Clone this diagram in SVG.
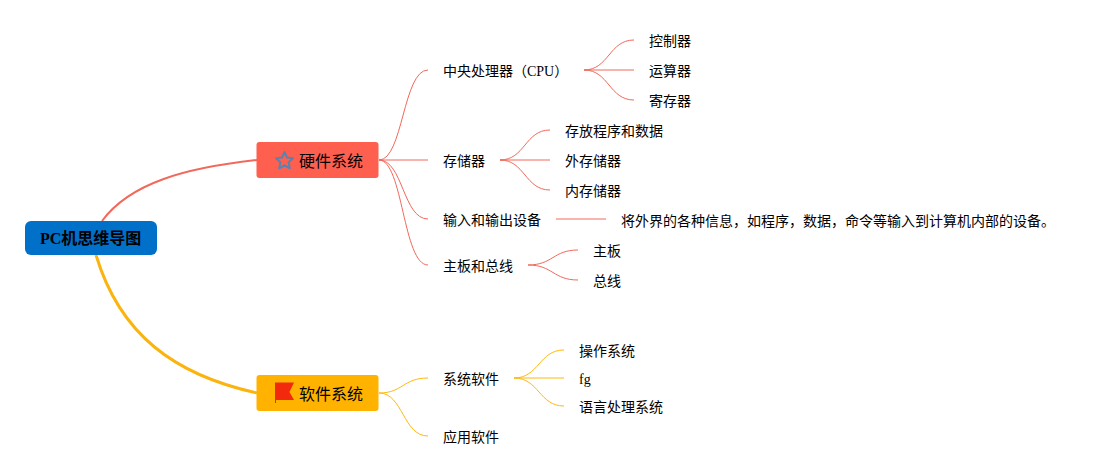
<svg xmlns="http://www.w3.org/2000/svg" width="1115" height="476" viewBox="0 0 1115 476">
<style>
text{font-family:"Liberation Serif","Noto Sans CJK SC",serif;font-size:14px;fill:#000}
.t{font-size:16px}
.r{font-size:16px;font-weight:700}
path.c{fill:none;stroke-linecap:butt}
.red{stroke:#f0695b;stroke-width:1}
.yel{stroke:#ffb80f;stroke-width:1}
</style>
<rect width="1115" height="476" fill="#fff"/>
<g id="connectors">
<path class="c" d="M102 221C130 183 185 168 257 160" stroke="#f0695b" stroke-width="2"/>
<path class="c" d="M96 255C120 335 175 375 257 393" stroke="#fbb40e" stroke-width="3"/>
<path class="c red" d="M379 160C403 160 403 70 428 70"/>
<path class="c red" d="M379 160H428"/>
<path class="c red" d="M379 160C403 160 403 219 428 219"/>
<path class="c red" d="M379 160C403 160 403 265 428 265"/>
<path class="c red" d="M584 70C609 70 609 40 634 40"/>
<path class="c red" d="M584 70H634"/>
<path class="c red" d="M584 70C609 70 609 100 634 100"/>
<path class="c red" d="M500 160C525 160 525 130 550 130"/>
<path class="c red" d="M500 160H550"/>
<path class="c red" d="M500 160C525 160 525 190 550 190"/>
<path class="c red" d="M556 219H606"/>
<path class="c red" d="M528 265C553 265 553 250 578 250"/>
<path class="c red" d="M528 265C553 265 553 280 578 280"/>
<path class="c yel" d="M379 393C403 393 403 378 428 378"/>
<path class="c yel" d="M379 393C403 393 403 436 428 436"/>
<path class="c yel" d="M514 378C539 378 539 350 564 350"/>
<path class="c yel" d="M514 378H564"/>
<path class="c yel" d="M514 378C539 378 539 406 564 406"/>
</g>
<g id="root"><rect x="25" y="221" width="132" height="34" rx="6" fill="#0070c8"/><text class="r" x="40" y="244">PC机思维导图</text></g>
<g id="hardware"><rect x="256.500" y="142" width="122" height="36" rx="3" fill="#ff5f4f"/>
<path d="M284.500 152L287 157.500L293 158.300L288.600 162.300L289.800 168.300L284.500 165.300L279.200 168.300L280.400 162.300L276 158.300L282 157.500Z" fill="none" stroke="#5b83b0" stroke-width="2" stroke-linejoin="round"/>
<text class="t" x="299" y="167">硬件系统</text></g>
<g id="software"><rect x="256.500" y="375" width="122" height="36" rx="3" fill="#ffb300"/>
<path d="M275 382.500H294L289.500 392L294 400H276V403H275Z" fill="#f3290e"/>
<text class="t" x="299" y="400">软件系统</text></g>
<g id="n1"><text x="443" y="76">中央处理器（CPU）</text></g>
<g id="n2"><text x="649" y="46">控制器</text></g>
<g id="n3"><text x="649" y="76">运算器</text></g>
<g id="n4"><text x="649" y="106">寄存器</text></g>
<g id="n5"><text x="443" y="166">存储器</text></g>
<g id="n6"><text x="565" y="136">存放程序和数据</text></g>
<g id="n7"><text x="565" y="166">外存储器</text></g>
<g id="n8"><text x="565" y="196">内存储器</text></g>
<g id="n9"><text x="443" y="225">输入和输出设备</text></g>
<g id="n10"><text x="621" y="226">将外界的各种信息，如程序，数据，命令等输入到计算机内部的设备。</text></g>
<g id="n11"><text x="443" y="271">主板和总线</text></g>
<g id="n12"><text x="593" y="256">主板</text></g>
<g id="n13"><text x="593" y="286">总线</text></g>
<g id="n14"><text x="443" y="384">系统软件</text></g>
<g id="n15"><text x="579" y="356">操作系统</text></g>
<g id="n16"><text x="579" y="384">fg</text></g>
<g id="n17"><text x="579" y="412">语言处理系统</text></g>
<g id="n18"><text x="443" y="442">应用软件</text></g>
</svg>
